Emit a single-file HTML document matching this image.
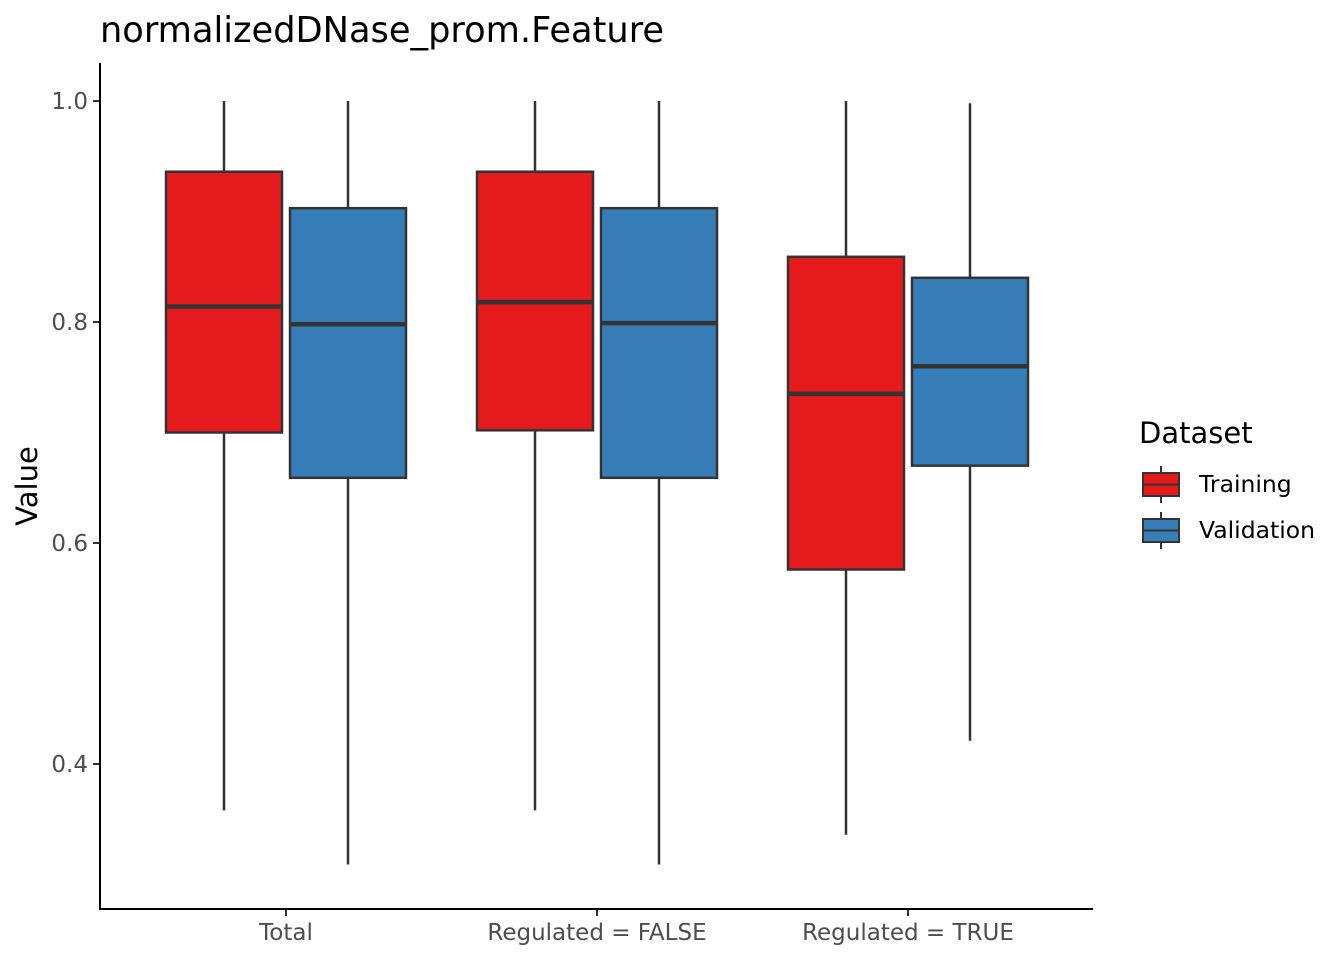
<!DOCTYPE html>
<html><head><meta charset="utf-8"><style>
body{margin:0;background:#fff;}
svg{display:block;font-family:"DejaVu Sans","Liberation Sans",sans-serif;}
</style></head><body>
<svg id="chart" width="1344" height="960">
<text x="100" y="42" font-size="35.2" fill="#000">normalizedDNase_prom.Feature</text>
<text transform="translate(37,486) rotate(-90)" text-anchor="middle" font-size="29" fill="#000">Value</text>
<g id="plot"></g>
<line x1="100" y1="63" x2="100" y2="910" stroke="#000" stroke-width="2"/>
<line x1="99" y1="909" x2="1093" y2="909" stroke="#000" stroke-width="2"/>
<g>
<text x="1139" y="443" font-size="29" fill="#000">Dataset</text>
<g>
<line x1="1161" y1="466" x2="1161" y2="503" stroke="#333" stroke-width="2"/>
<rect x="1143" y="473" width="36" height="23" fill="#E41A1C" stroke="#333" stroke-width="2"/>
<line x1="1143" y1="484.5" x2="1179" y2="484.5" stroke="#333" stroke-width="2"/>
<text x="1199" y="492" font-size="23.5" fill="#000">Training</text></g>
<g>
<line x1="1161" y1="512" x2="1161" y2="549" stroke="#333" stroke-width="2"/>
<rect x="1143" y="519" width="36" height="23" fill="#377EB8" stroke="#333" stroke-width="2"/>
<line x1="1143" y1="530.5" x2="1179" y2="530.5" stroke="#333" stroke-width="2"/>
<text x="1199" y="538" font-size="23.5" fill="#000">Validation</text></g>
</g>
</svg>
<script>
const categories=["Total","Regulated = FALSE","Regulated = TRUE"];
const series=["Training","Validation"];
const colors=["#E41A1C","#377EB8"];
const yTicks=[0.4,0.6,0.8,1.0];
const trainLow=[0.358,0.358,0.336];
const trainQ1=[0.700,0.702,0.576];
const trainMed=[0.814,0.818,0.735];
const trainQ3=[0.936,0.936,0.859];
const trainHigh=[1.0,1.0,1.0];
const valLow=[0.309,0.309,0.421];
const valQ1=[0.659,0.659,0.670];
const valMed=[0.798,0.799,0.760];
const valQ3=[0.903,0.903,0.840];
const valHigh=[1.0,1.0,0.998];

const NS="http://www.w3.org/2000/svg";
const g=document.getElementById('plot');
function y(v){return 101+(1-v)*1105;}
function xc(i){return 286+i*311;}
function mk(t,a){const e=document.createElementNS(NS,t);for(const k in a)e.setAttribute(k,a[k]);g.appendChild(e);return e;}
yTicks.forEach(t=>{
  const l=mk('line',{x1:93,x2:100,y1:y(t),y2:y(t),stroke:'#333','stroke-width':2});
  
  
  const tx=mk('text',{x:88,y:y(t)+8,'text-anchor':'end','font-size':23,fill:'#4d4d4d'});
  tx.textContent=t.toFixed(1);
  
  
});
categories.forEach((c,i)=>{
  const l=mk('line',{x1:xc(i),x2:xc(i),y1:909,y2:916,stroke:'#333','stroke-width':2});
  
  
  const tx=mk('text',{x:xc(i),y:940,'text-anchor':'middle','font-size':23,fill:'#4d4d4d'});
  tx.textContent=c;
  
  
});
const stats=[[trainLow,trainQ1,trainMed,trainQ3,trainHigh],[valLow,valQ1,valMed,valQ3,valHigh]];
categories.forEach((c,i)=>{
  series.forEach((s,j)=>{
    const [lo,q1,md,q3,hi]=stats[j].map(a=>a[i]);
    const cx=xc(i)+(j===0?-62:62), w=116;
    const wl=mk('line',{x1:cx,x2:cx,y1:y(hi),y2:y(lo),stroke:'#333','stroke-width':2.5});
    
    
    const r=mk('rect',{x:cx-w/2,y:y(q3),width:w,height:y(q1)-y(q3),fill:colors[j],stroke:'#333','stroke-width':2.5});
    
    
    const m=mk('line',{x1:cx-w/2,x2:cx+w/2,y1:y(md),y2:y(md),stroke:'#333','stroke-width':4.5});
    
    
  });
});
</script>
</body></html>
